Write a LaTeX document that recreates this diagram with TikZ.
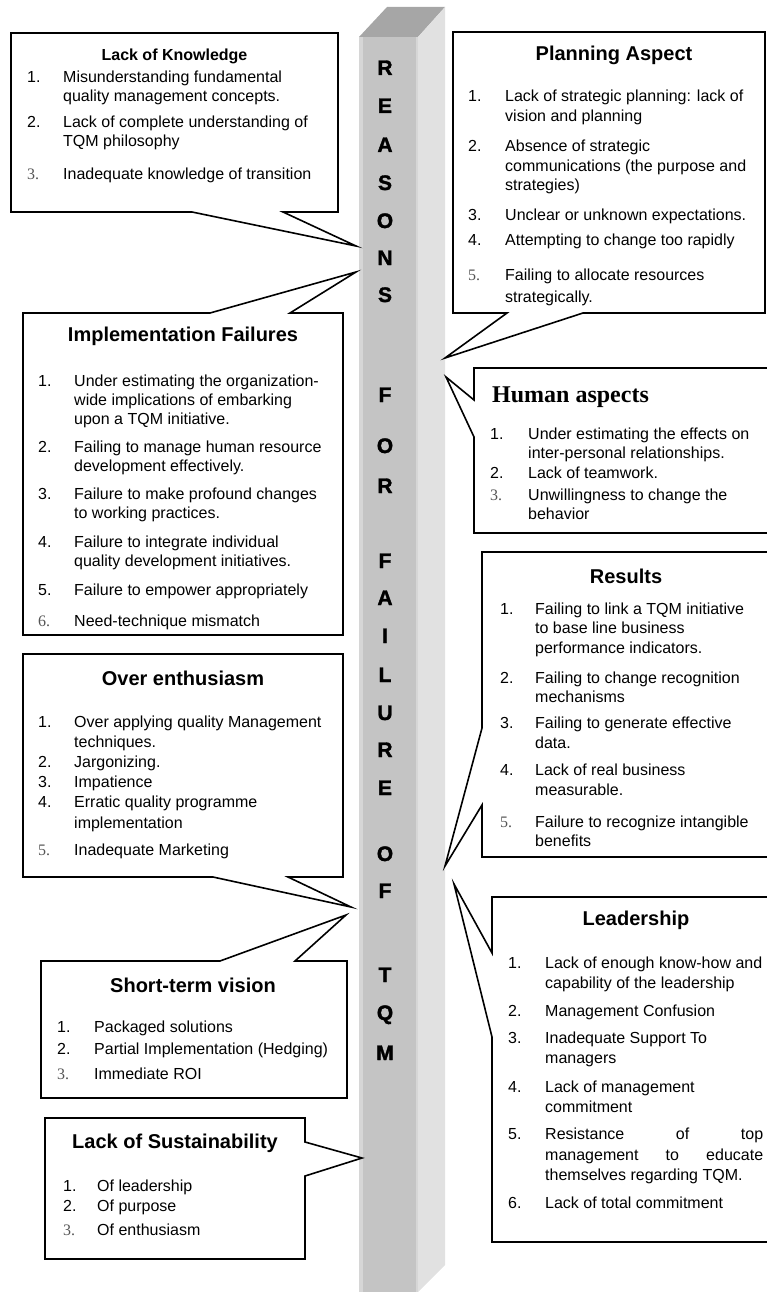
\documentclass[tikz,border=0pt]{standalone}
\usepackage{fontspec}
\setmainfont{Liberation Sans}
\newfontfamily\serif{Liberation Serif}
\newfontfamily\heavy{Liberation Sans Bold}[FakeBold=1.6]
\usetikzlibrary{calc}

\definecolor{pillarfront}{HTML}{C4C4C4}
\definecolor{pillarside}{HTML}{E1E1E1}
\definecolor{pillartop}{HTML}{A6A6A6}
\definecolor{pillaredge}{HTML}{D6D6D6}
\definecolor{numgray}{HTML}{555555}

% serif grey numbers, list body
\newcommand{\sn}[1]{\leavevmode{\serif\color{numgray}#1}}
\newcommand{\lst}[2]{\begin{tabular}[t]{@{}p{#1}@{}l@{}}#2\end{tabular}}

\tikzset{
  frame/.style={inner sep=0pt, outer sep=0pt},
  callout/.style={draw=black, line width=1.6pt, fill=white, line join=miter},
  heading/.style={anchor=base, inner sep=0pt, font=\fontsize{20}{24}\selectfont\bfseries},
  items/.style={anchor=base west, inner sep=0pt, font=\fontsize{16}{19}\selectfont},
  letter/.style={anchor=base, inner sep=0pt, font=\fontsize{21}{21}\heavy}
}

\begin{document}
\begin{tikzpicture}[x=1pt, y=-1pt]
  \useasboundingbox (0,0) rectangle (767,1292);

  % the pillar
  \fill[pillartop] (359,37) -- (387,7) -- (445,7) -- (418,37) -- cycle;
  \fill[pillarside] (418,37) -- (445,7) -- (445,1265) -- (418,1292) -- cycle;
  \fill[pillarfront] (359,37) rectangle (418,1292);
  \fill[pillaredge] (359,37) rectangle (363,1292);
  \fill[pillaredge] (416,37) rectangle (418,1292);

  \foreach \ch/\yy [count=\i] in {R/75, E/113, A/152, S/190, O/228, N/265, S/302,
      F/402, O/453, R/493, F/568, A/605, I/643, L/682, U/720, R/757, E/795,
      O/861, F/898, T/982, Q/1020, M/1060}
    \node[letter] (ltr\i) at (385,\yy) {\ch};

  % pointer tips on the pillar
  \coordinate (tipknow) at (356,246);
  \coordinate (tipimpl) at (356,272);
  \coordinate (tipover) at (351,907);
  \coordinate (tipshort) at (346,915);
  \coordinate (tipsust) at (362,1158);
  \coordinate (tipplan) at (445,358);
  \coordinate (tiphuman) at (446,377);
  \coordinate (tipres) at (445,866);
  \coordinate (tiplead) at (454,884);

  % frames
  \node[frame, minimum width=327pt, minimum height=179pt] (know) at (174.5,122.5) {};
  \node[frame, minimum width=320pt, minimum height=322pt] (impl) at (183,474) {};
  \node[frame, minimum width=320pt, minimum height=223pt] (over) at (183,765.5) {};
  \node[frame, minimum width=306pt, minimum height=137pt] (short) at (194,1029.5) {};
  \node[frame, minimum width=260pt, minimum height=141pt] (sust) at (175,1188.5) {};
  \node[frame, minimum width=312pt, minimum height=281pt] (plan) at (609,172.5) {};
  \node[frame, minimum width=296pt, minimum height=165pt] (human) at (622,450.5) {};
  \node[frame, minimum width=288pt, minimum height=305pt] (res) at (626,704.5) {};
  \node[frame, minimum width=278pt, minimum height=345pt] (lead) at (631,1069.5) {};

  % callout outlines
  \draw[callout] (know.north west) -- (know.north east) -- (know.south east)
    -- ($(know.south west)+(272,0)$) -- (tipknow) -- ($(know.south west)+(181,0)$)
    -- (know.south west) -- cycle;
  \draw[callout] (impl.north west) -- ($(impl.north west)+(187,0)$) -- (tipimpl)
    -- ($(impl.north west)+(267,0)$) -- (impl.north east) -- (impl.south east)
    -- (impl.south west) -- cycle;
  \draw[callout] (over.north west) -- (over.north east) -- (over.south east)
    -- ($(over.south west)+(265,0)$) -- (tipover) -- ($(over.south west)+(190,0)$)
    -- (over.south west) -- cycle;
  \draw[callout] (short.north west) -- ($(short.north west)+(179,0)$) -- (tipshort)
    -- ($(short.north west)+(254,0)$) -- (short.north east) -- (short.south east)
    -- (short.south west) -- cycle;
  \draw[callout] (sust.north west) -- (sust.north east) -- ($(sust.north east)+(0,24)$)
    -- (tipsust) -- ($(sust.north east)+(0,58)$) -- (sust.south east)
    -- (sust.south west) -- cycle;
  \draw[callout] (plan.north west) -- (plan.north east) -- (plan.south east)
    -- ($(plan.south west)+(130,0)$) -- (tipplan) -- ($(plan.south west)+(54,0)$)
    -- (plan.south west) -- cycle;
  \draw[callout] (human.north west) -- (human.north east) -- (human.south east)
    -- (human.south west) -- ($(human.north west)+(0,69)$) -- (tiphuman)
    -- ($(human.north west)+(0,32)$) -- cycle;
  \draw[callout] (res.north west) -- (res.north east) -- (res.south east)
    -- (res.south west) -- ($(res.north west)+(0,253)$) -- (tipres)
    -- ($(res.north west)+(0,176)$) -- cycle;
  \draw[callout] (lead.north west) -- (lead.north east) -- (lead.south east)
    -- (lead.south west) -- ($(lead.north west)+(0,140)$) -- (tiplead)
    -- ($(lead.north west)+(0,56)$) -- cycle;

  % headings
  \node[heading, font=\fontsize{16}{19}\selectfont\bfseries] (knowhead) at (174.5,61) {Lack of Knowledge};
  \node[heading] (implhead) at (183,341) {Implementation Failures};
  \node[heading] (overhead) at (183,685) {Over enthusiasm};
  \node[heading] (shorthead) at (193,992) {Short-term vision};
  \node[heading] (susthead) at (175,1148) {Lack of Sustainability};
  \node[heading] (planhead) at (614,61) {Planning Aspect};
  \node[heading, anchor=base west, font=\fontsize{24}{28}\serif\bfseries] (humanhead) at (492,402) {Human aspects};
  \node[heading] (reshead) at (626,583) {Results};
  \node[heading] (leadhead) at (636,925) {Leadership};

  % lists
  \node[items] (knowlist) at (27,83) {\lst{36pt}{%
    1. & Misunderstanding fundamental\\
       & quality management concepts.\\[7pt]
    2. & Lack of complete understanding of\\
       & TQM philosophy\\[14pt]
    \sn{3.} & Inadequate knowledge of transition}};
  \node[items] (impllist) at (38,386) {\lst{36pt}{%
    1. & Under estimating the organization-\\
       & wide implications of embarking\\
       & upon a TQM initiative.\\[9pt]
    2. & Failing to manage human resource\\
       & development effectively.\\[9pt]
    3. & Failure to make profound changes\\
       & to working practices.\\[10pt]
    4. & Failure to integrate individual\\
       & quality development initiatives.\\[10pt]
    5. & Failure to empower appropriately\\[12pt]
    \sn{6.} & Need-technique mismatch}};
  \node[items] (overlist) at (38,727) {\lst{36pt}{%
    1. & Over applying quality Management\\[1pt]
       & techniques.\\[1pt]
    2. & Jargonizing.\\[1pt]
    3. & Impatience\\[1pt]
    4. & Erratic quality programme\\[2pt]
       & implementation\\[8pt]
    \sn{5.} & Inadequate Marketing}};
  \node[items] (shortlist) at (57,1032) {\lst{37pt}{%
    1. & Packaged solutions\\[3pt]
    2. & Partial Implementation (Hedging)\\[6pt]
    \sn{3.} & Immediate ROI}};
  \node[items] (sustlist) at (63,1191) {\lst{34pt}{%
    1. & Of leadership\\[1pt]
    2. & Of purpose\\[5pt]
    \sn{3.} & Of enthusiasm}};
  \node[items] (planlist) at (468,102) {\lst{37pt}{%
    1. & Lack of strategic planning: lack of\\[1pt]
       & vision and planning\\[11pt]
    2. & Absence of strategic\\[1pt]
       & communications (the purpose and\\
       & strategies)\\[11pt]
    3. & Unclear or unknown expectations.\\[6pt]
    4. & Attempting to change too rapidly\\[16pt]
    \sn{5.} & Failing to allocate resources\\[3pt]
       & strategically.}};
  \node[items] (humanlist) at (490,439) {\lst{38pt}{%
    1. & Under estimating the effects on\\
       & inter-personal relationships.\\[1pt]
    2. & Lack of teamwork.\\[3pt]
    \sn{3.} & Unwillingness to change the\\
       & behavior}};
  \node[items] (reslist) at (500,614) {\lst{35pt}{%
    1. & Failing to link a TQM initiative\\
       & to base line business\\[1pt]
       & performance indicators.\\[11pt]
    2. & Failing to change recognition\\
       & mechanisms\\[7pt]
    3. & Failing to generate effective\\[1pt]
       & data.\\[8pt]
    4. & Lack of real business\\[1pt]
       & measurable.\\[13pt]
    \sn{5.} & Failure to recognize intangible\\
       & benefits}};
  \node[items] (leadlist) at (508,968) {\lst{37pt}{%
    1. & Lack of enough know-how and\\[1pt]
       & capability of the leadership\\[9pt]
    2. & Management Confusion\\[8pt]
    3. & Inadequate Support To\\[1pt]
       & managers\\[10pt]
    4. & Lack of management\\[1pt]
       & commitment\\[8pt]
    5. & \makebox[218pt][s]{Resistance\hfill of\hfill top}\\[2pt]
       & \makebox[218pt][s]{management\hfill to\hfill educate}\\[1pt]
       & themselves regarding TQM.\\[9pt]
    6. & Lack of total commitment}};
\end{tikzpicture}
\end{document}
